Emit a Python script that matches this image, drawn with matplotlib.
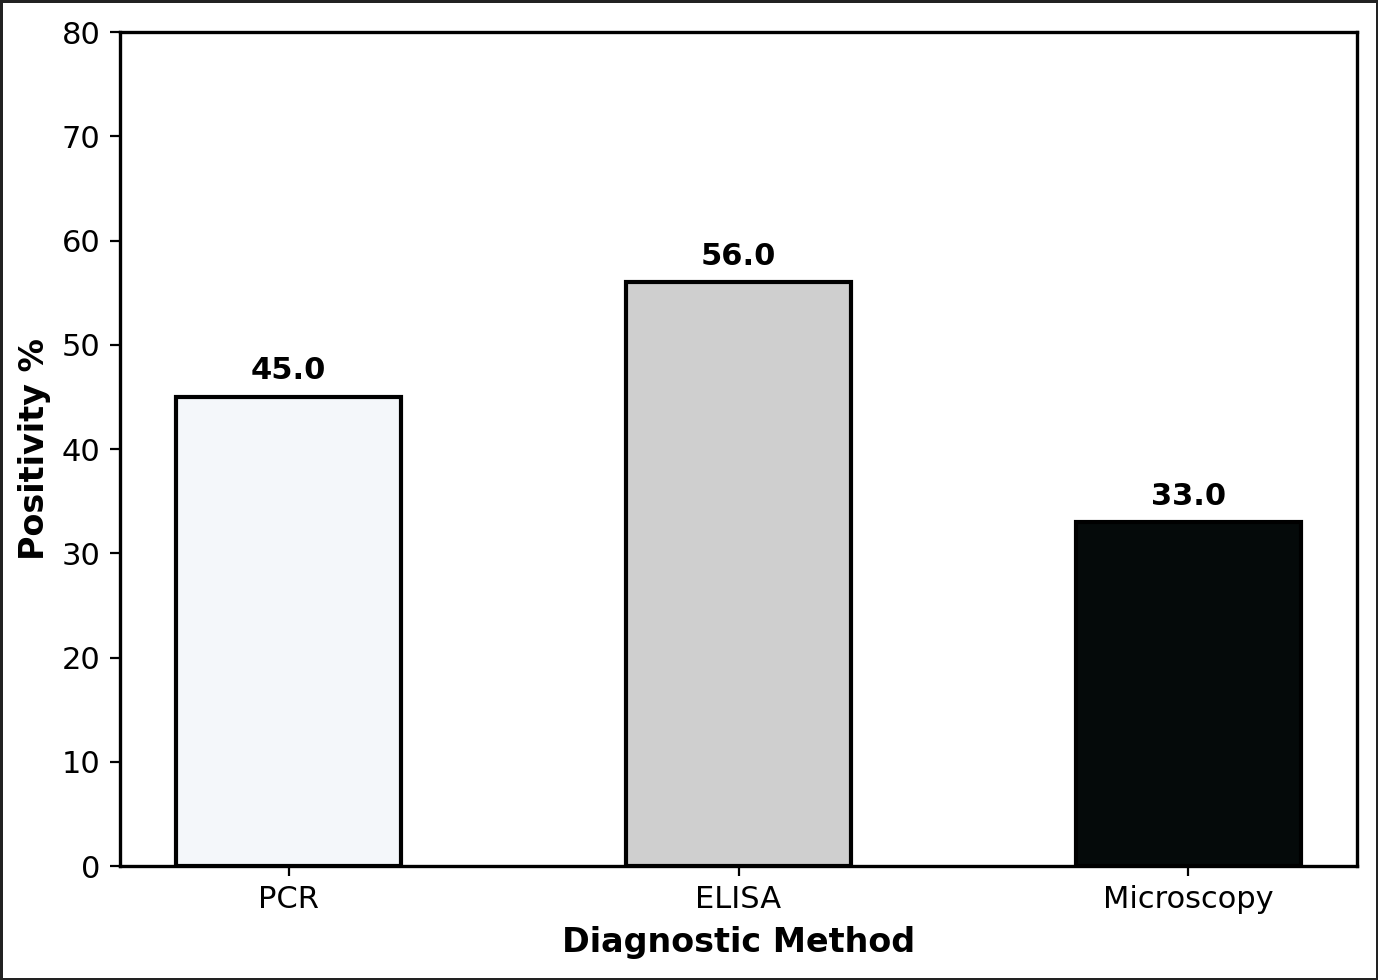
import matplotlib.pyplot as plt

# Datos
metodos = ["PCR", "ELISA", "Microscopy"]
positividad = [45.0, 56.0, 33.0]
colores = ["#f4f7fa", "#cfcfcf", "#050a0a"]

fig = plt.figure(figsize=(6.89, 4.9), dpi=200)
fig.patch.set_edgecolor("#222222")
fig.patch.set_linewidth(1.2)
ax = fig.add_axes([0.0871, 0.1163, 0.8977, 0.851])

x = range(len(metodos))
barras = ax.bar(x, positividad, width=0.5, color=colores,
                edgecolor="black", linewidth=1.5)

for xi, v in zip(x, positividad):
    ax.text(xi, v + 1.1, f"{v:.1f}", ha="center", va="bottom",
            fontsize=11, fontweight="bold")

ax.set_xticks(list(x))
ax.set_xticklabels(metodos)
ax.set_ylim(0, 80)
ax.tick_params(labelsize=11)
ax.set_xlabel("Diagnostic Method", fontsize=12, fontweight="bold")
ax.set_ylabel("Positivity %", fontsize=12, fontweight="bold")
for s in ax.spines.values():
    s.set_linewidth(1.2)

fig.savefig("out.png", dpi=200, edgecolor=fig.get_edgecolor())
